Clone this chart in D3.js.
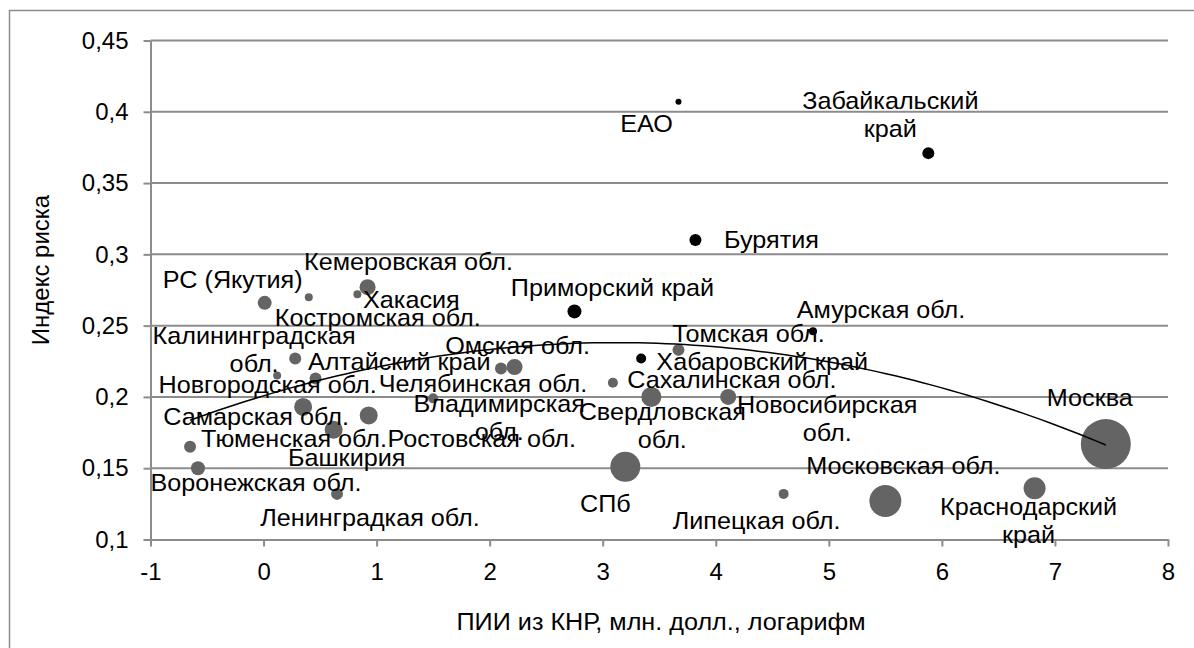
<!DOCTYPE html>
<html>
<head>
<meta charset="utf-8">
<script src="https://cdn.jsdelivr.net/npm/d3@7"></script>
<style>
    body { margin: 0; background: #fff; }
    svg { display: block; font-family: "Liberation Sans", Arial, sans-serif; }
</style>
</head>
<body>
<div id="chart"></div>
<script>
// regions
const regions = [
    'Москва', 'Краснодарский край', 'Московская обл.', 'Липецкая обл.', 'СПб',
    'Свердловская обл.', 'Новосибирская обл.', 'Сахалинская обл.', 'Хабаровский край', 'Томская обл.',
    'Амурская обл.', 'Приморский край', 'Бурятия', 'ЕАО', 'Забайкальский край',
    'Омская обл.', 'Челябинская обл.', 'Владимирская обл.', 'Ростовская обл.', 'Башкирия',
    'Самарская обл.', 'Новгородская обл.', 'Алтайский край', 'Калининградская обл.', 'Тюменская обл.',
    'Воронежская обл.', 'Ленинградкая обл.', 'РС (Якутия)', 'Костромская обл.', 'Хакасия',
    'Кемеровская обл.'
];
// ПИИ из КНР, логарифм
const fdiLog = [
    7.45, 6.82, 5.50, 4.60, 3.20,
    3.43, 4.11, 3.09, 3.34, 3.67,
    4.86, 2.75, 3.82, 3.67, 5.88,
    2.22, 2.10, 1.50, 0.93, 0.62,
    0.35, 0.46, 0.28, 0.12, -0.65,
    -0.58, 0.65, 0.01, 0.40, 0.83,
    0.92
];
// индекс риска
const riskIndex = [
    0.167, 0.136, 0.127, 0.132, 0.151,
    0.200, 0.200, 0.210, 0.227, 0.233,
    0.246, 0.260, 0.310, 0.407, 0.371,
    0.221, 0.220, 0.199, 0.187, 0.177,
    0.193, 0.213, 0.227, 0.215, 0.165,
    0.150, 0.132, 0.266, 0.270, 0.272,
    0.277
];
// bubble size (relative)
const bubbleSize = [
    625, 121, 256, 25, 225,
    100, 64, 25, 25, 36,
    16, 49, 36, 9, 36,
    64, 36, 25, 81, 81,
    81, 36, 36, 16, 36,
    49, 36, 49, 16, 16,
    64
];
const farEast = ['Хабаровский край', 'Амурская обл.', 'Приморский край', 'Бурятия', 'ЕАО', 'Забайкальский край'];

const xTicks = [-1, 0, 1, 2, 3, 4, 5, 6, 7, 8];
const yTicks = [0.1, 0.15, 0.2, 0.25, 0.3, 0.35, 0.4, 0.45];

// label placement relative to bubble centre (layout only)
const labelOffsets = [
    [-16, -38], [-6, 27], [18, -27], [-27, 35], [-20, 45],
    [11, 23], [99, 16], [119, 5], [121, 12], [70, -8],
    [68, -13], [38, -15], [76, 8], [-32, 30], [-38, -44],
    [3, -13], [-18, 24], [66, 14], [113, 32], [13, 36],
    [-47, 18], [-48, 15], [104, 12], [-23, -32], [104, 0],
    [58, 23], [33, 32], [-32, -15], [69, 29], [54, 14],
    [41, -17]
];
const wrapped = ['Краснодарский край', 'Свердловская обл.', 'Новосибирская обл.', 'Забайкальский край', 'Владимирская обл.', 'Калининградская обл.'];

const width = 1194, height = 648;
const gridColor = '#8c8c8c';
const fontSize = 24;
const stretch = 1.05;

const locale = d3.formatLocale({ decimal: ',', thousands: ' ', grouping: [3], currency: ['', ''], minus: '-' });
const fmtY = locale.format('.2~f');
const fmtX = locale.format('d');

const svg = d3.select('#chart').append('svg')
    .attr('width', width)
    .attr('height', height);

svg.append('rect')
    .attr('x', 9.5).attr('y', 10.5)
    .attr('width', 1300).attr('height', 800)
    .attr('fill', '#fff')
    .attr('stroke', gridColor)
    .attr('stroke-width', 1.5);

const x = d3.scaleLinear().domain([-1, 8]).range([150.5, 1168]);
const y = d3.scaleLinear().domain([0.1, 0.45]).range([539.5, 40.5]);
const r = d3.scaleSqrt().domain([0, d3.max(bubbleSize)]).range([0, 25]);

// gridlines
svg.append('g')
    .selectAll('line')
    .data(yTicks.slice(1))
    .join('line')
    .attr('x1', x(-1)).attr('x2', x(8))
    .attr('y1', d => y(d)).attr('y2', d => y(d))
    .attr('stroke', gridColor)
    .attr('stroke-width', 2);

function styleAxis(g) {
    g.selectAll('.domain, .tick line').attr('stroke', gridColor).attr('stroke-width', 2);
    g.selectAll('.tick text').attr('fill', '#000').style('font-size', fontSize + 'px');
    g.attr('font-family', null).attr('font-size', null);
}

svg.append('g')
    .attr('transform', `translate(${x(-1)},0)`)
    .call(d3.axisLeft(y).tickValues(yTicks).tickFormat(fmtY).tickSize(7).tickSizeOuter(0).tickPadding(15))
    .call(styleAxis);

svg.append('g')
    .attr('transform', `translate(0,${y(0.1)})`)
    .call(d3.axisBottom(x).tickValues(xTicks).tickFormat(fmtX).tickSize(7).tickSizeOuter(0).tickPadding(16))
    .call(styleAxis);

// axis titles
svg.append('text')
    .attr('transform', 'translate(49,270) rotate(-90)')
    .attr('text-anchor', 'middle')
    .style('font-size', fontSize + 'px')
    .text('Индекс риска');

svg.append('text')
    .attr('transform', `translate(661,630) scale(${stretch},1)`)
    .attr('text-anchor', 'middle')
    .style('font-size', fontSize + 'px')
    .text('ПИИ из КНР, млн. долл., логарифм');

const points = regions.map((name, i) => ({
    name,
    fx: fdiLog[i],
    ry: riskIndex[i],
    size: bubbleSize[i],
    off: labelOffsets[i],
    black: farEast.includes(name)
}));

// bubbles, biggest first so small ones stay visible
svg.append('g')
    .selectAll('circle')
    .data(points.slice().sort((a, b) => b.size - a.size))
    .join('circle')
    .attr('cx', d => x(d.fx))
    .attr('cy', d => y(d.ry))
    .attr('r', d => r(d.size))
    .attr('fill', d => d.black ? '#000' : '#646464');

// polynomial trend (order 2), least squares on the points
function polyFit2(xs, ys) {
    const s = [0, 0, 0, 0, 0], t = [0, 0, 0];
    xs.forEach((xv, i) => {
        for (let k = 0; k < 5; k++) s[k] += Math.pow(xv, k);
        for (let k = 0; k < 3; k++) t[k] += ys[i] * Math.pow(xv, k);
    });
    const m = [
        [s[0], s[1], s[2], t[0]],
        [s[1], s[2], s[3], t[1]],
        [s[2], s[3], s[4], t[2]]
    ];
    for (let i = 0; i < 3; i++) {
        for (let j = i + 1; j < 3; j++) {
            const f = m[j][i] / m[i][i];
            for (let k = i; k < 4; k++) m[j][k] -= f * m[i][k];
        }
    }
    const c = [0, 0, 0];
    for (let i = 2; i >= 0; i--) {
        let v = m[i][3];
        for (let k = i + 1; k < 3; k++) v -= m[i][k] * c[k];
        c[i] = v / m[i][i];
    }
    return c;
}

const coef = polyFit2(fdiLog, riskIndex);
const [xMin, xMax] = d3.extent(fdiLog);
const trend = d3.range(0, 101).map(i => {
    const xv = xMin + (xMax - xMin) * i / 100;
    return [xv, coef[0] + coef[1] * xv + coef[2] * xv * xv];
});

svg.append('path')
    .datum(trend)
    .attr('fill', 'none')
    .attr('stroke', '#000')
    .attr('stroke-width', 1.5)
    .attr('d', d3.line().x(d => x(d[0])).y(d => y(d[1])));

// data labels
const labels = svg.append('g')
    .selectAll('text')
    .data(points)
    .join('text')
    .attr('transform', d => `translate(${x(d.fx) + d.off[0]},${y(d.ry) + d.off[1]}) scale(${stretch},1)`)
    .attr('text-anchor', 'middle')
    .style('font-size', fontSize + 'px')
    .attr('fill', '#000');

labels.each(function (d) {
    const el = d3.select(this);
    if (wrapped.includes(d.name)) {
        const cut = d.name.lastIndexOf(' ');
        el.append('tspan').attr('x', 0).text(d.name.slice(0, cut));
        el.append('tspan')
            .attr('x', 0)
            .attr('dy', 28)
            .text(d.name.slice(cut + 1));
    } else {
        el.text(d.name);
    }
});
</script>
</body>
</html>
